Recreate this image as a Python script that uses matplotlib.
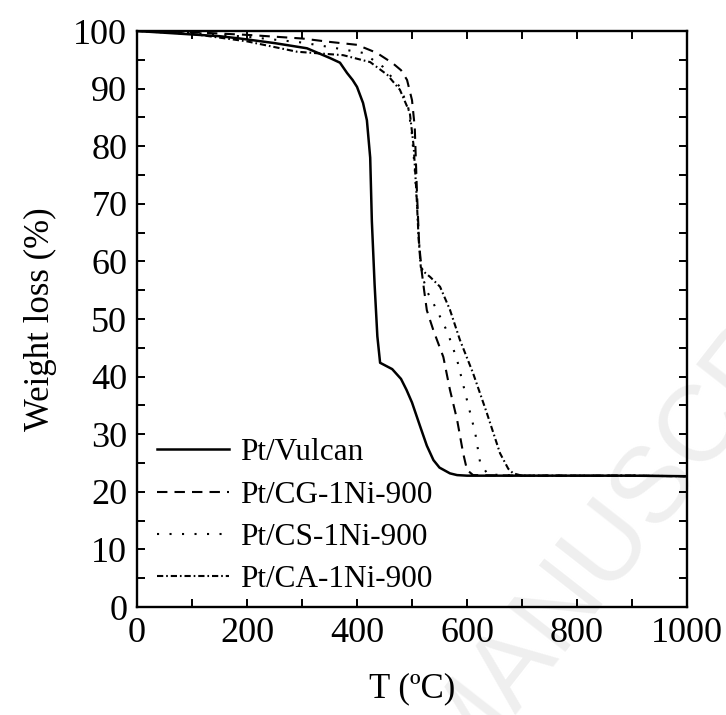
import matplotlib
matplotlib.use("Agg")
import matplotlib.pyplot as plt
from matplotlib.ticker import MultipleLocator

plt.rcParams['font.family'] = ['Liberation Serif', 'DejaVu Serif']
plt.rcParams['mathtext.fontset'] = 'stix'

# ---- data ----
t_vulcan = [0, 50, 100, 150, 187, 250, 309, 351, 369, 382, 392, 400, 411, 418, 424, 427, 432, 437, 442,
            450, 464, 480, 490, 500, 515, 527, 539, 550, 569, 582, 600, 700, 800, 900, 1000]
w_vulcan = [100, 99.7, 99.4, 99.1, 98.7, 97.9, 97.0, 95.3, 94.5, 92.7, 91.5, 90.3, 87.5, 84.5, 78, 67, 56, 47, 42.4,
            42.0, 41.3, 39.6, 37.7, 35.5, 31.3, 28.0, 25.5, 24.2, 23.2, 22.9, 22.8, 22.8, 22.8, 22.8, 22.7]

t_cg = [0, 100, 205, 300, 351, 400, 436, 465, 480, 491, 500, 505, 509, 513, 518, 522, 527, 539,
        557, 569, 582, 593, 600, 611, 700, 800, 900, 1000]
w_cg = [100, 99.8, 99.3, 98.7, 98.1, 97.6, 96.2, 94.4, 93.2, 91.5, 88, 83.3, 72, 63, 58, 55, 51.5, 48,
        43.4, 37.7, 32.5, 26.7, 23.8, 22.9, 22.8, 22.8, 22.8, 22.7]

t_cs = [0, 100, 200, 300, 351, 411, 447, 478, 493, 500, 505, 509, 515, 520, 529, 545, 565,
        582, 600, 615, 624, 638, 700, 800, 900, 1000]
w_cs = [100, 99.7, 99.0, 98.0, 97.2, 96.2, 93.8, 90.3, 86.8, 82, 76, 70, 60, 57, 54.5, 51.6, 47.6,
        42.9, 35.9, 30.2, 25.0, 23.0, 22.8, 22.8, 22.8, 22.7]

t_ca = [0, 100, 200, 291, 375, 424, 455, 478, 496, 503, 508, 512, 516, 524, 533, 551, 569,
        587, 611, 636, 660, 675, 684, 700, 800, 900, 1000]
w_ca = [100, 99.5, 98.2, 96.4, 95.8, 94.6, 92.4, 89.8, 85.8, 80, 72, 64, 59, 58, 57.3, 55.6, 51.6,
        46.4, 40.6, 33.7, 26.7, 24.0, 23.2, 22.8, 22.8, 22.8, 22.7]

labels = ["Pt/Vulcan", "Pt/CG-1Ni-900", "Pt/CS-1Ni-900", "Pt/CA-1Ni-900"]
xticks = [0, 200, 400, 600, 800, 1000]
yticks = [0, 10, 20, 30, 40, 50, 60, 70, 80, 90, 100]

fig = plt.figure(figsize=(7.26, 7.15), dpi=100)
ax = fig.add_axes([137/726, 1-607/715, 550/726, 576/715])
ax.patch.set_alpha(0)

# faint watermark behind the plot
fig.text(457/726, 1-779/715, "MANUSCRIPT", rotation=52, rotation_mode='anchor',
         ha='left', va='baseline', fontsize=78, family='Liberation Sans',
         color='#efefef', zorder=-1)

lw = 1.5
ax.plot(t_vulcan, w_vulcan, color='black', lw=1.8, linestyle='-', label=labels[0])
ax.plot(t_cg, w_cg, color='black', lw=lw, linestyle=(0, (5.0, 3.4)), label=labels[1])
ax.plot(t_cs, w_cs, color='black', lw=lw, linestyle=(0, (1.0, 5.0)), label=labels[2])
ax.plot(t_ca, w_ca, color='black', lw=lw, linestyle=(0, (3.0, 1.4, 0.8, 1.4)), label=labels[3])

ax.set_xlim(0, 1000)
ax.set_ylim(0, 100)
ax.set_xticks(xticks)
ax.set_yticks(yticks)
ax.xaxis.set_minor_locator(MultipleLocator(100))
ax.yaxis.set_minor_locator(MultipleLocator(5))
ax.tick_params(which='both', direction='in', top=True, right=True, width=1.4,
               length=6, labelsize=26, pad=7)
for s in ax.spines.values():
    s.set_linewidth(1.7)

ax.set_xlabel("T (ºC)", fontsize=25, labelpad=16)
ax.set_ylabel("Weight loss (%)", fontsize=25, labelpad=12)

ax.legend(loc='lower left', bbox_to_anchor=(0.036, 0.023), frameon=False,
          fontsize=22.5, handlelength=2.3, handletextpad=0.35, labelspacing=0.42,
          borderpad=0, borderaxespad=0)

fig.savefig("out.png", dpi=100)
